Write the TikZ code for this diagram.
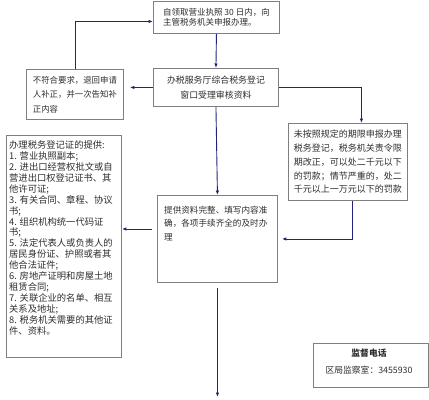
\documentclass[tikz,border=0pt]{standalone}
\usepackage{fontspec}
\setmainfont{Noto Sans CJK SC}
\usetikzlibrary{arrows.meta}
\definecolor{navy}{HTML}{23237A}
\definecolor{boxgray}{HTML}{7F7F7F}
\definecolor{txt}{HTML}{2E2E2E}
\begin{document}
\begin{tikzpicture}[x=1bp,y=-1bp,
  frame/.style={draw=boxgray,line width=0.9bp,inner sep=0pt,anchor=north west},
  txtnode/.style={inner sep=0pt,align=left,text=txt},
  conn/.style={draw=navy,line width=0.9bp},
  arr/.style={conn,-{Latex[length=4.5bp,width=3.5bp]}}]
\useasboundingbox[fill=white] (0,0) rectangle (429,400);

% boxes
\node[frame,minimum width=126bp,minimum height=32bp] (top) at (153,1) {};
\node[frame,minimum width=125bp,minimum height=38bp] (mid) at (153,68) {};
\node[frame,minimum width=97bp,minimum height=50bp] (leftsmall) at (26,69) {};
\node[frame,minimum width=119bp,minimum height=77bp] (right) at (288,123) {};
\node[frame,minimum width=120bp,minimum height=87bp] (bot) at (157,195) {};
\node[frame,minimum width=115bp,minimum height=222bp] (leftbig) at (6,135) {};
\node[frame,minimum width=115bp,minimum height=44bp] (sup) at (313,343) {};

% texts
\node[txtnode,font=\fontsize{8.5bp}{10.5bp}\selectfont] (toptxt) at (top.center)
  {自领取营业执照 30 日内，向\\主管税务机关申报办理。};
\node[txtnode,align=center,font=\fontsize{8.9bp}{15bp}\selectfont] (midtxt) at (mid.center)
  {办税服务厅综合税务登记\\窗口受理审核资料};
\node[txtnode,font=\fontsize{8.4bp}{14.5bp}\selectfont] (lstxt) at (leftsmall.center)
  {不符合要求，退回申请\\人补正，并一次告知补\\正内容};
\node[txtnode,font=\fontsize{9bp}{13.7bp}\selectfont] (rtxt) at (right.center)
  {未按照规定的期限申报办理\\税务登记，税务机关责令限\\期改正，可以处二千元以下\\的罚款；情节严重的，处二\\千元以上一万元以下的罚款};
\node[txtnode,anchor=north west,font=\fontsize{8.6bp}{13.5bp}\selectfont] (btxt) at (164,205.7)
  {提供资料完整、填写内容准\\确，各项手续齐全的及时办\\理};
\node[txtnode,anchor=north west,font=\fontsize{9.3bp}{10.95bp}\selectfont] (lbtxt) at (9,140.3)
  {办理税务登记证的提供:\\1. 营业执照副本;\\2. 进出口经营权批文或自\\营进出口权登记证书、其\\他许可证;\\3. 有关合同、章程、协议\\书;\\4. 组织机构统一代码证\\书;\\5. 法定代表人或负责人的\\居民身份证、护照或者其\\他合法证件;\\6. 房地产证明和房屋土地\\租赁合同;\\7. 关联企业的名单、相互\\关系及地址;\\8. 税务机关需要的其他证\\件、资料。};
\node[txtnode,align=center,font=\fontsize{8.8bp}{17bp}\selectfont] (suptxt) at (369,361.5)
  {\textbf{监督电话}\\区局监察室：3455930};

% connectors
\coordinate (endpt) at (218,397);
\draw[arr] (top.south) -- (mid.north);
\draw[arr,shorten >=6bp] (mid.west) -- (mid.west -| leftsmall.east);
\draw[arr] (leftsmall.north) |- ([yshift=-4bp]top.west);
\draw[arr] (mid.east) -| ([xshift=13.5bp]right.north);
\draw[arr] (mid.south) -- (bot.north);
\draw[arr,shorten >=4bp] ([xshift=4.5bp]right.south) |- (bot.east);
\draw[arr,shorten <=5bp] ([yshift=10bp]bot.west) -- ([yshift=10bp]bot.west -| leftbig.east);
\draw[arr,shorten <=5bp] (bot.south) -- (bot.south |- endpt);
\end{tikzpicture}
\end{document}
